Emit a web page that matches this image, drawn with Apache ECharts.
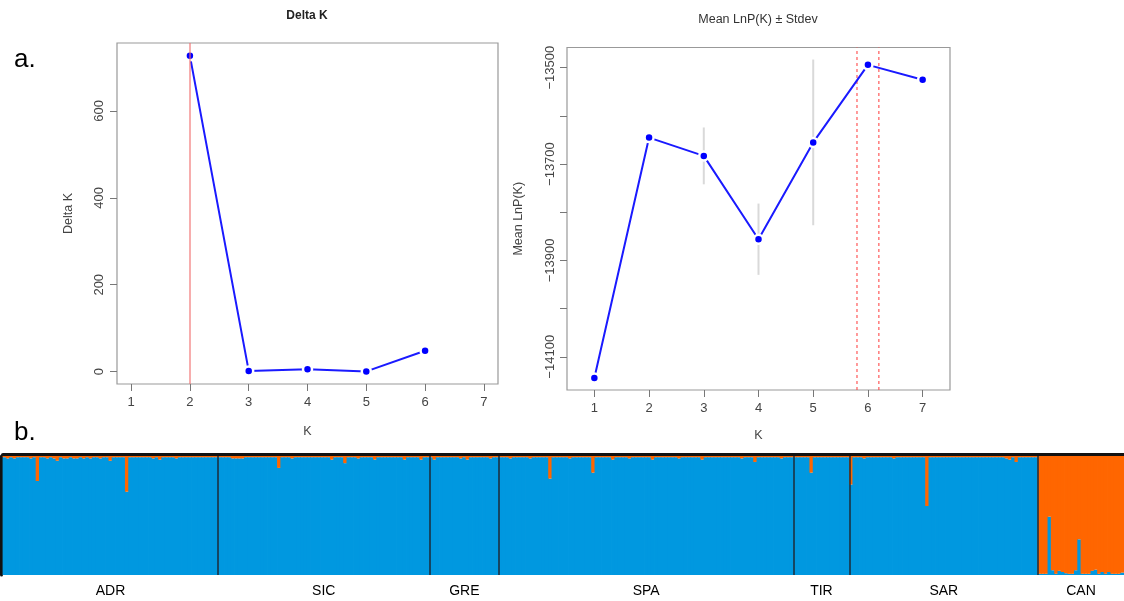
<!DOCTYPE html>
<html>
<head>
<meta charset="utf-8">
<script src="https://cdn.jsdelivr.net/npm/echarts@6/dist/echarts.min.js"></script>
<style>
html,body{margin:0;padding:0;background:#fff;}
#c{width:1124px;height:601px;}
</style>
</head>
<body>
<div id="c"></div>
<script>
// ---- Panel a (left): Delta K ----
const deltaK_K = [2, 3, 4, 5, 6];
const deltaK_vals = [727, 1.6, 5.5, 0.5, 48];
const deltaK_best = 2;

// ---- Panel a (right): Mean LnP(K) +/- Stdev ----
const lnp_K = [1, 2, 3, 4, 5, 6, 7];
const lnp_mean = [-14144, -13645, -13683, -13856, -13655, -13494, -13525];
const lnp_sd = [2, 3, 59, 74, 172, 4, 3];
const lnp_marks = [5.8, 6.2];

const kTicks = [1, 2, 3, 4, 5, 6, 7];
const deltaTicks = [0, 200, 400, 600];
const lnpTicks = [-14100, -14000, -13900, -13800, -13700, -13600, -13500];
const lnpLabels = [-14100, -13900, -13700, -13500];

// ---- Panel b: admixture proportions (orange cluster share per individual) ----
const groups = ['ADR', 'SIC', 'GRE', 'SPA', 'TIR', 'SAR', 'CAN'];
const qADR = [0.01,0.02,0.01,0.02,0.01,0.01,0.01,0.01,0.02,0.01,
  0.21,0.01,0.01,0.02,0.01,0.02,0.04,0.01,0.02,0.02,
  0.01,0.02,0.02,0.01,0.02,0.01,0.02,0.01,0.01,0.02,
  0.01,0.01,0.04,0.01,0.01,0.01,0.01,0.30,0.01,0.01,
  0.01,0.01,0.01,0.01,0.01,0.02,0.01,0.03,0.01,0.01,
  0.01,0.01,0.02,0.01,0.01,0.01,0.01,0.01,0.01,0.01,
  0.01,0.01,0.01,0.01,0.01];
const qSIC = [0.01,0.01,0.01,0.01,0.02,0.02,0.02,0.02,0.01,0.01,
  0.01,0.01,0.01,0.01,0.01,0.01,0.01,0.01,0.10,0.01,
  0.01,0.01,0.02,0.01,0.01,0.01,0.01,0.01,0.01,0.01,
  0.01,0.01,0.01,0.01,0.03,0.01,0.01,0.01,0.06,0.01,
  0.01,0.01,0.02,0.01,0.01,0.01,0.01,0.03,0.01,0.01,
  0.01,0.01,0.01,0.01,0.01,0.01,0.03,0.01,0.01,0.01,
  0.01,0.03,0.01,0.01];
const qGRE = [0.01,0.03,0.01,0.01,0.01,0.01,0.01,0.01,0.01,0.02,
  0.01,0.03,0.01,0.01,0.01,0.01,0.01,0.01,0.02,0.01,0.01];
const qSPA = [0.01,0.01,0.01,0.02,0.01,0.01,0.01,0.01,0.01,0.02,
  0.01,0.01,0.01,0.01,0.01,0.19,0.01,0.01,0.01,0.01,
  0.01,0.02,0.01,0.01,0.01,0.01,0.01,0.01,0.14,0.01,
  0.01,0.01,0.01,0.01,0.03,0.01,0.01,0.01,0.01,0.02,
  0.01,0.01,0.01,0.01,0.01,0.01,0.03,0.01,0.01,0.01,
  0.01,0.01,0.01,0.01,0.02,0.01,0.01,0.01,0.01,0.01,
  0.01,0.03,0.01,0.01,0.01,0.01,0.01,0.01,0.01,0.01,
  0.01,0.01,0.01,0.02,0.01,0.01,0.01,0.05,0.01,0.01,
  0.01,0.01,0.01,0.01,0.01,0.02,0.01,0.01,0.01];
const qTIR = [0.01,0.01,0.01,0.01,0.01,0.14,0.01,0.01,0.01,0.01,
  0.01,0.01,0.01,0.01,0.01,0.01,0.01];
const qSAR = [0.24,0.01,0.01,0.01,0.02,0.01,0.01,0.01,0.01,0.01,
  0.01,0.01,0.01,0.02,0.01,0.01,0.01,0.01,0.01,0.01,
  0.01,0.01,0.01,0.42,0.01,0.01,0.01,0.01,0.01,0.01,
  0.01,0.01,0.01,0.01,0.01,0.01,0.01,0.01,0.01,0.01,
  0.01,0.01,0.01,0.01,0.01,0.01,0.01,0.02,0.03,0.01,
  0.05,0.01,0.01,0.01,0.01,0.01,0.01];
const qCAN = [0.99,0.99,0.99,0.51,0.96,0.99,0.965,0.975,0.985,0.99,
  0.99,0.96,0.70,0.99,0.99,0.99,0.965,0.955,0.99,0.975,
  0.99,0.975,0.99,0.99,0.99,0.98];

const groupQ = [qADR, qSIC, qGRE, qSPA, qTIR, qSAR, qCAN];

// build derived structures
const allQ = [].concat(...groupQ);
const N = allQ.length;
const idx = allQ.map((_, i) => i);
const bounds = [];
const centers = [];
let acc = 0;
groupQ.forEach((g, i) => {
  centers.push(acc + g.length / 2);
  acc += g.length;
  if (i < groupQ.length - 1) bounds.push(acc);
});

const FONT = "'Liberation Sans', Arial, sans-serif";
const minus = v => (v < 0 ? '\u2212' : '') + Math.abs(v);

const tickStyle = {lineStyle: {color: '#777', width: 1}, length: 7};
const lblStyle = {color: '#444', fontSize: 13, fontFamily: FONT};

const BLUE = '#0098e0';
const ORANGE = '#ff6600';
const LNP_MIN = -14169, LNP_MAX = -13458;

// admixture bars drawn as stacked rectangles through the category axis scale
function renderAdmix(params, api) {
  const i = api.value(0);
  const q = api.value(1);
  const bw = api.size([1, 0])[0];
  const pTop = api.coord([i, 1]);
  const pMid = api.coord([i, 1 - q]);
  const pBot = api.coord([i, 0]);
  const x = pTop[0] - bw / 2 - 0.4;
  const w = bw + 0.8;
  return {type: 'group', children: [
    {type: 'rect', shape: {x: x, y: pMid[1], width: w, height: pBot[1] - pMid[1]}, style: {fill: BLUE}},
    {type: 'rect', shape: {x: x, y: pTop[1], width: w, height: pMid[1] - pTop[1]}, style: {fill: ORANGE}}
  ]};
}

const chart = echarts.init(document.getElementById('c'), null, {renderer: 'canvas'});
const option = {
  animation: false,
  backgroundColor: '#fff',
  grid: [
    {left: 117, top: 43, width: 381, height: 341, show: true, borderColor: '#999', borderWidth: 1.2, backgroundColor: 'transparent'},
    {left: 567, top: 47.5, width: 383, height: 342.5, show: true, borderColor: '#999', borderWidth: 1.2, backgroundColor: 'transparent'},
    {left: 3, right: 0, top: 456, height: 119}
  ],
  xAxis: [
    {type: 'value', gridIndex: 0, min: 0.76, max: 7.24,
     axisLine: {show: false, onZero: false}, splitLine: {show: false},
     axisTick: Object.assign({show: true, inside: false, customValues: kTicks}, tickStyle),
     axisLabel: Object.assign({show: true, customValues: kTicks, margin: 12}, lblStyle),
     name: 'K', nameLocation: 'middle', nameGap: 41,
     nameTextStyle: {color: '#444', fontSize: 12.5, fontFamily: FONT}},
    {type: 'value', gridIndex: 1, min: 0.5, max: 7.5,
     axisLine: {show: false, onZero: false}, splitLine: {show: false},
     axisTick: Object.assign({show: true, inside: false, customValues: kTicks}, tickStyle),
     axisLabel: Object.assign({show: true, customValues: kTicks, margin: 12}, lblStyle),
     name: 'K', nameLocation: 'middle', nameGap: 39,
     nameTextStyle: {color: '#444', fontSize: 12.5, fontFamily: FONT}},
    {type: 'category', gridIndex: 2, data: idx, show: false, boundaryGap: true},
    {type: 'category', gridIndex: 2, data: idx, position: 'top', offset: 1.5,
     axisLine: {show: true, onZero: false, lineStyle: {color: '#111', width: 4}},
     axisTick: {show: false}, axisLabel: {show: false}, splitLine: {show: false}},
    {type: 'value', gridIndex: 2, min: 0, max: N, position: 'bottom',
     axisLine: {show: false, onZero: false}, axisTick: {show: false}, splitLine: {show: false},
     axisLabel: {show: true, customValues: centers, margin: 9,
       formatter: v => { const i = centers.findIndex(c => Math.abs(c - v) < 1e-6); return i >= 0 ? groups[i] : ''; },
       color: '#000', fontSize: 14, fontFamily: FONT}}
  ],
  yAxis: [
    {type: 'value', gridIndex: 0, min: -28.5, max: 756.5,
     axisLine: {show: false, onZero: false}, splitLine: {show: false},
     axisTick: Object.assign({show: true, inside: false, customValues: deltaTicks}, tickStyle),
     axisLabel: Object.assign({show: true, customValues: deltaTicks, rotate: 90, margin: 11}, lblStyle),
     name: 'Delta K', nameLocation: 'middle', nameGap: 42,
     nameTextStyle: {color: '#444', fontSize: 12.5, fontFamily: FONT}},
    {type: 'value', gridIndex: 1, min: LNP_MIN, max: LNP_MAX,
     axisLine: {show: false, onZero: false}, splitLine: {show: false},
     axisTick: Object.assign({show: true, inside: false, customValues: lnpTicks}, tickStyle),
     axisLabel: Object.assign({show: true, customValues: lnpLabels, rotate: 90, margin: 10, formatter: minus}, lblStyle),
     name: 'Mean LnP(K)', nameLocation: 'middle', nameGap: 42,
     nameTextStyle: {color: '#444', fontSize: 12.5, fontFamily: FONT}},
    {type: 'value', gridIndex: 2, min: 0, max: 1, offset: 1.5,
     axisLine: {show: true, onZero: false, lineStyle: {color: '#111', width: 3}},
     axisTick: {show: false}, axisLabel: {show: false}, splitLine: {show: false}}
  ],
  graphic: [
    {type: 'text', left: 14, top: 47, style: {text: 'a.', fontSize: 26, fontFamily: FONT, fill: '#000'}},
    {type: 'text', left: 14, top: 420, style: {text: 'b.', fontSize: 26, fontFamily: FONT, fill: '#000'}},
    {type: 'text', x: 307, y: 16, style: {text: 'Delta K', fontSize: 12, fontWeight: 'bold', fontFamily: FONT, fill: '#222', align: 'center', verticalAlign: 'middle'}},
    {type: 'text', x: 758, y: 19.5, style: {text: 'Mean LnP(K) \u00b1 Stdev', fontSize: 12.5, fontFamily: FONT, fill: '#333', align: 'center', verticalAlign: 'middle'}}
  ],
  series: [
    {type: 'line', xAxisIndex: 0, yAxisIndex: 0,
     data: deltaK_K.map((k, i) => [k, deltaK_vals[i]]),
     lineStyle: {color: '#1a1aff', width: 2},
     symbol: 'circle', symbolSize: 9,
     itemStyle: {color: '#0000ff', borderColor: '#fff', borderWidth: 2.5},
     z: 3,
     markLine: {silent: true, symbol: 'none', label: {show: false},
       lineStyle: {color: 'rgba(240,110,110,0.75)', width: 1.5, type: 'solid'},
       data: [{xAxis: deltaK_best}]}},
    {type: 'custom', xAxisIndex: 1, yAxisIndex: 1,
     data: lnp_K.map((k, i) => [k, lnp_mean[i] - lnp_sd[i], lnp_mean[i] + lnp_sd[i]]),
     renderItem: (params, api) => {
       const p1 = api.coord([api.value(0), api.value(1)]);
       const p2 = api.coord([api.value(0), api.value(2)]);
       return {type: 'line', shape: {x1: p1[0], y1: p1[1], x2: p2[0], y2: p2[1]},
               style: {stroke: '#d9d9d9', lineWidth: 2}};
     }, z: 1, silent: true},
    {type: 'custom', xAxisIndex: 1, yAxisIndex: 1,
     data: lnp_marks.map(v => [v]),
     renderItem: (params, api) => {
       const p1 = api.coord([api.value(0), LNP_MIN]);
       const p2 = api.coord([api.value(0), LNP_MAX]);
       return {type: 'line', shape: {x1: p1[0], y1: p1[1], x2: p2[0], y2: p2[1]},
               style: {stroke: '#ff4a4a', lineWidth: 1.1, lineDash: [3, 3]}};
     }, z: 2, silent: true},
    {type: 'line', xAxisIndex: 1, yAxisIndex: 1,
     data: lnp_K.map((k, i) => [k, lnp_mean[i]]),
     lineStyle: {color: '#1a1aff', width: 2},
     symbol: 'circle', symbolSize: 9,
     itemStyle: {color: '#0000ff', borderColor: '#fff', borderWidth: 2.5},
     z: 3},
    {type: 'custom', xAxisIndex: 2, yAxisIndex: 2,
     data: allQ.map((q, i) => [i, q]),
     renderItem: renderAdmix, silent: true, z: 2},
    {type: 'line', xAxisIndex: 4, yAxisIndex: 2, data: [], silent: true, z: 4,
     markLine: {silent: true, symbol: 'none', label: {show: false},
       lineStyle: {color: '#1c2b38', width: 1.5, type: 'solid'},
       data: bounds.map(b => ({xAxis: b}))}}
  ]
};
chart.setOption(option);
</script>
</body>
</html>
